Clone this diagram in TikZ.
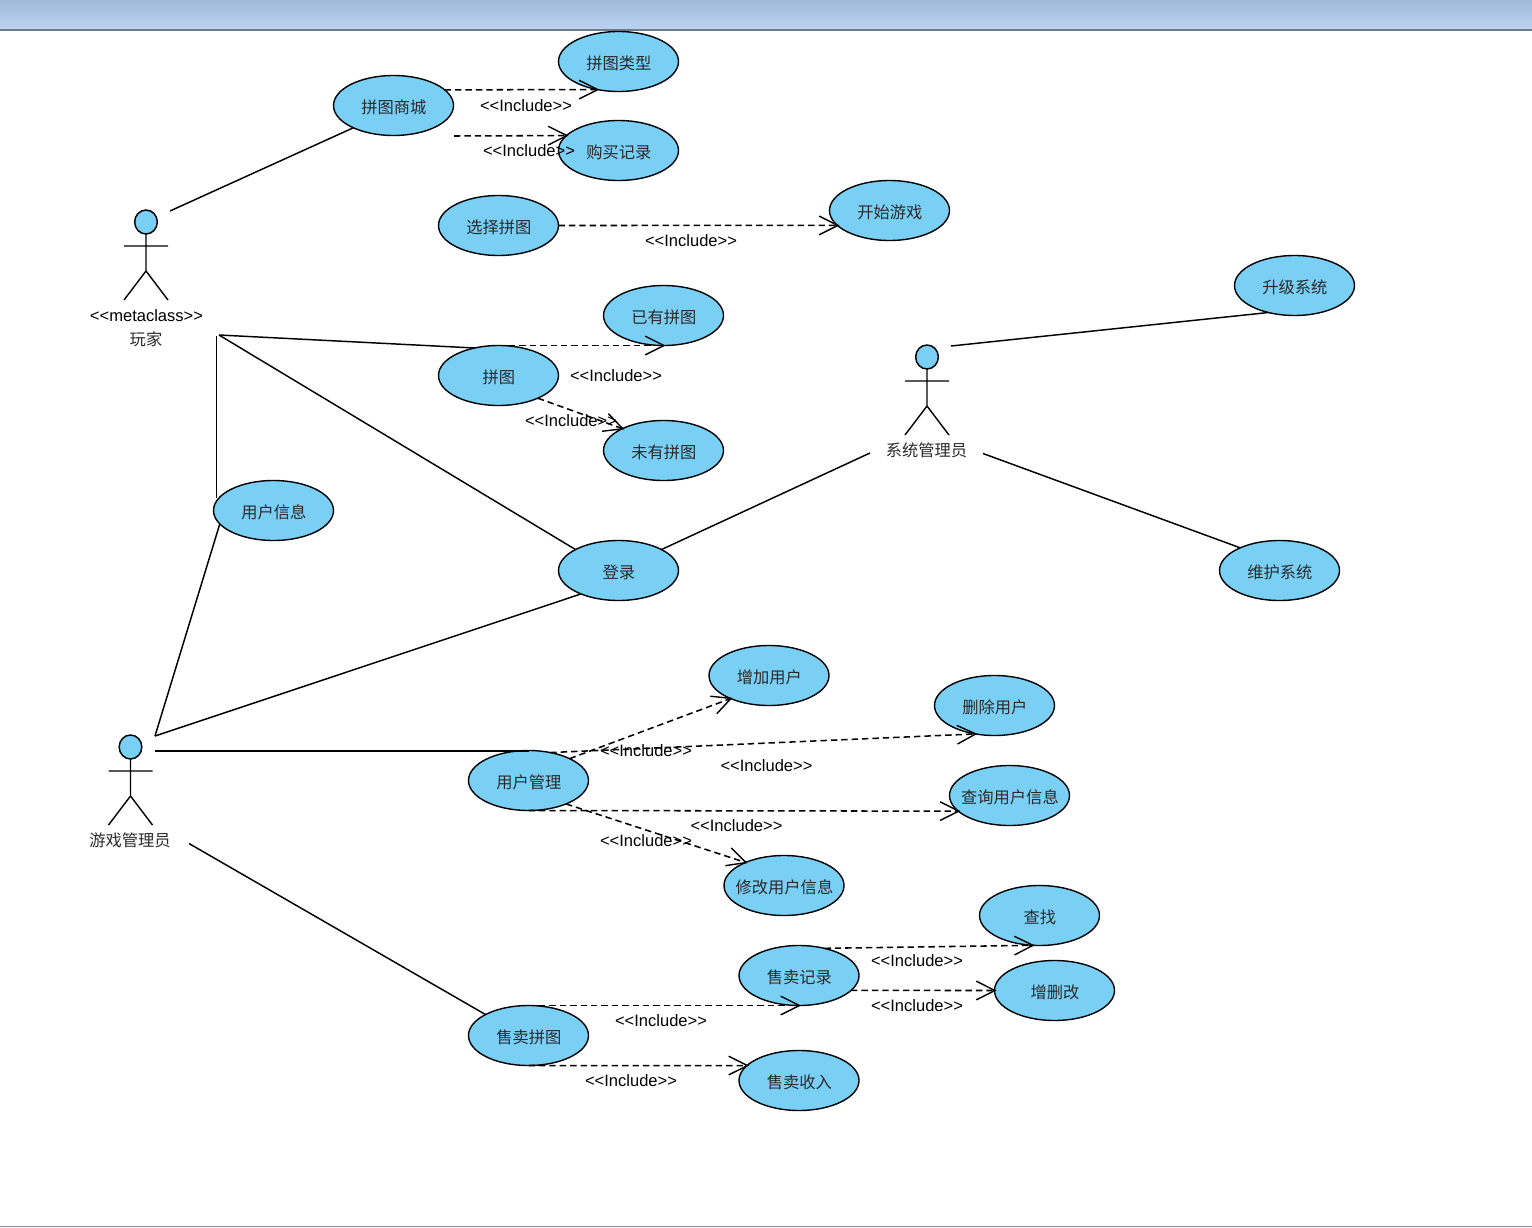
\documentclass[tikz,border=0pt]{standalone}
\usepackage{fontspec}
\setmainfont{Liberation Sans}
\newfontfamily\cjk{Noto Sans CJK SC}
\usetikzlibrary{shapes.geometric,arrows.meta}
\definecolor{ucfill}{HTML}{7ACFF5}
\definecolor{bartop}{HTML}{A0BAD8}
\definecolor{barbot}{HTML}{B9D3F0}
\definecolor{barline}{HTML}{6E7C8C}
\definecolor{botline}{HTML}{8A8A98}
\definecolor{cjktext}{HTML}{2A2A2A}
\newcommand{\uctext}[1]{\makebox[0pt]{\raisebox{-5.7pt}[0pt][0pt]{\hspace{0.7pt}\cjk #1}}}
\newcommand{\inclabel}{<{}<Include>{}>}
\tikzset{
  ucase/.style={ellipse,draw=black,fill=ucfill,line width=1.05pt,minimum width=90pt,minimum height=45pt,inner sep=0pt,outer sep=0pt,text=cjktext,font=\fontsize{12.2pt}{14pt}\selectfont},
  assoc/.style={draw=black,line width=1.1pt},
  incl/.style={draw=black,line width=1.15pt,yshift=-0.45pt,shorten >=-1.5pt,dash pattern=on 4.8pt off 3pt,-{Straight Barb[length=14pt,width=14pt,line width=1.05pt]}},
  stereo/.style={inner sep=0pt,yshift=-0.5pt,font=\fontsize{12.4pt}{14pt}\selectfont,text=black},
  actorname/.style={inner sep=0pt,text=cjktext,font=\fontsize{12.2pt}{14pt}\selectfont\cjk},
  actorhead/.style={ellipse,draw=black,fill=ucfill,line width=1.1pt,minimum width=17pt,minimum height=18pt,inner sep=0pt,outer sep=0pt},
  actorline/.style={draw=black,line width=1.05pt}
}
\begin{document}
\begin{tikzpicture}[x=0.75pt,y=-0.75pt]
\useasboundingbox (0,0) rectangle (1532,1228);
\shade[top color=bartop,bottom color=barbot,draw=none] (0,0) rectangle (1532,29);
\fill[barline] (0,29) rectangle (1532,30.5);
\fill[botline] (0,1226) rectangle (1532,1227);

% use cases
\node[ucase] (shoptype) at (618.5,61.5) {\uctext{拼图类型}};
\node[ucase] (shop) at (393.5,105.5) {\uctext{拼图商城}};
\node[ucase] (buyrec) at (618.5,150.5) {\uctext{购买记录}};
\node[ucase] (choose) at (498.5,225.5) {\uctext{选择拼图}};
\node[ucase] (start) at (889.5,210.5) {\uctext{开始游戏}};
\node[ucase] (have) at (663.5,315.5) {\uctext{已有拼图}};
\node[ucase] (puzzle) at (498.5,375.5) {\uctext{拼图}};
\node[ucase] (nothave) at (663.5,450.5) {\uctext{未有拼图}};
\node[ucase] (userinfo) at (273.5,510.5) {\uctext{用户信息}};
\node[ucase] (login) at (618.5,570.5) {\uctext{登录}};
\node[ucase] (upgrade) at (1294.5,285.5) {\uctext{升级系统}};
\node[ucase] (maintain) at (1279.5,570.5) {\uctext{维护系统}};
\node[ucase] (adduser) at (769,675.5) {\uctext{增加用户}};
\node[ucase] (deluser) at (994.5,705.5) {\uctext{删除用户}};
\node[ucase] (usermgr) at (528.5,780.5) {\uctext{用户管理}};
\node[ucase] (query) at (1009.5,795.5) {\uctext{查询用户信息}};
\node[ucase] (modify) at (784,885.5) {\uctext{修改用户信息}};
\node[ucase] (find) at (1039.5,915.5) {\uctext{查找}};
\node[ucase] (salerec) at (799,975.5) {\uctext{售卖记录}};
\node[ucase] (crud) at (1054.5,990.5) {\uctext{增删改}};
\node[ucase] (sale) at (528.5,1035.5) {\uctext{售卖拼图}};
\node[ucase] (income) at (799,1080.5) {\uctext{售卖收入}};

% actors
\node[actorhead] (playerhead) at (146,222) {};
\draw[actorline] (playerhead.south) -- (146,271) -- (124,300) (146,271) -- (168,300) (124,246) -- (168,246);
\node[actorhead] (adminhead) at (927,357) {};
\draw[actorline] (adminhead.south) -- (927,406) -- (905,435) (927,406) -- (949,435) (905,381) -- (949,381);
\node[actorhead] (gmhead) at (130.5,747) {};
\draw[actorline] (gmhead.south) -- (130.5,796) -- (108.5,825) (130.5,796) -- (152.5,825) (108.5,771) -- (152.5,771);
\node[stereo] (meta) at (146.5,315) {<{}<metaclass>{}>};
\node[actorname] (playername) at (146,339) {玩家};
\node[actorname] (adminname) at (926.5,450) {系统管理员};
\node[actorname] (gmname) at (130,840) {游戏管理员};

% free ends of associations
\coordinate (p1) at (170,211);
\coordinate (p2) at (219,335);
\coordinate (p3) at (216.5,336);
\coordinate (p3b) at (216.5,498);
\coordinate (a1) at (951,346);
\coordinate (a2) at (870,453);
\coordinate (a3) at (983,453.5);
\coordinate (g1) at (155,736);
\coordinate (g2) at (155,751);
\coordinate (g3) at (189,843.5);
\coordinate (shopse) at (454,136);
\coordinate (umtop) at (528.5,751);

% associations
\draw[assoc] (p1) -- (shop.209.7);
\draw[assoc] (p2) -- (puzzle.131.6);
\draw[assoc] (p2) -- (login.154.8);
\draw[assoc] (p3) -- (p3b);
\draw[assoc] (g1) -- (userinfo.194.9);
\draw[assoc] (g1) -- (login.212.1);
\draw[assoc] (a2) -- (login.26.8);
\draw[assoc] (a1) -- (upgrade.226);
\draw[assoc] (a3) -- (maintain.150.9);
\draw[assoc] (g2) -- (umtop);
\draw[assoc] (g3) -- (sale.154.2);

% includes
\draw[incl] (shop.17.6) -- (shoptype.233.8);
\draw[incl] (shopse) -- (buyrec.164);
\draw[incl] (choose.east) -- (start.196.7);
\draw[incl] (puzzle.north) -- (have.south);
\draw[incl] (puzzle.-30.5) -- (nothave.152);
\draw[incl] (usermgr.28.5) -- (adduser.211.4);
\draw[incl] (usermgr.52) -- (deluser.236.5);
\draw[incl] (usermgr.south) -- (query.197.4);
\draw[incl] (usermgr.-32.5) -- (modify.149.8);
\draw[incl] (salerec.47.6) -- (find.257.5);
\draw[incl] (salerec.-16.6) -- (crud.west);
\draw[incl] (sale.north) -- (salerec.south);
\draw[incl] (sale.south) -- (income.164.1);

% labels
\node[stereo] (l1) at (526,105) {\inclabel};
\node[stereo] (l2) at (529,150) {\inclabel};
\node[stereo] (l3) at (691,240) {\inclabel};
\node[stereo] (l4) at (616,375) {\inclabel};
\node[stereo] (l5) at (571,420) {\inclabel};
\node[stereo] (l6) at (646,750) {\inclabel};
\node[stereo] (l7) at (766.5,765) {\inclabel};
\node[stereo] (l8) at (736.5,825) {\inclabel};
\node[stereo] (l9) at (646,840) {\inclabel};
\node[stereo] (l10) at (917,960) {\inclabel};
\node[stereo] (l11) at (917,1005) {\inclabel};
\node[stereo] (l12) at (661,1020) {\inclabel};
\node[stereo] (l13) at (631,1080) {\inclabel};
\end{tikzpicture}
\end{document}
